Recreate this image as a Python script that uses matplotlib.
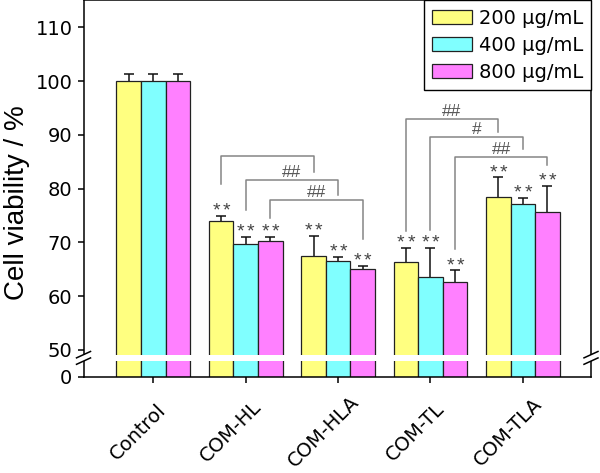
import matplotlib
matplotlib.use('Agg')
import matplotlib.pyplot as plt
import matplotlib.transforms as mtransforms
from matplotlib.patches import Rectangle
from matplotlib.lines import Line2D
import numpy as np

plt.rcParams['font.family'] = ['DejaVu Sans']

# ---- data ----
categories = ['Control', 'COM-HL', 'COM-HLA', 'COM-TL', 'COM-TLA']
dose_labels = ['200 \u03bcg/mL', '400 \u03bcg/mL', '800 \u03bcg/mL']
v200 = [100, 73.97, 67.46, 66.27, 78.43]
v400 = [100, 69.75, 66.44, 63.48, 77.18]
v800 = [100, 70.30, 64.97, 62.63, 75.70]
e200 = [1.36, 0.93, 3.68, 2.73, 3.64]
e400 = [1.36, 1.25, 0.90, 5.43, 1.12]
e800 = [1.36, 0.70, 0.69, 2.15, 4.78]
stars = ['', '**', '**', '**', '**']
ytick_values = [45, 50, 60, 70, 80, 90, 100, 110]
ytick_labels = ['0', '50', '60', '70', '80', '90', '100', '110']
# brackets: (group_a, dose_a, group_b, dose_b, y_top, y_left_end, y_right_end, label)
brackets = [
    (1, 0, 2, 0, 85.98, 80.85, 83.00, ''),
    (1, 1, 2, 1, 81.52, 76.07, 78.86, '##'),
    (1, 2, 2, 2, 77.80, 74.53, 70.62, '##'),
    (3, 0, 4, 0, 92.93, 72.03, 90.44, '##'),
    (3, 1, 4, 1, 89.51, 72.22, 87.36, '#'),
    (3, 2, 4, 2, 85.87, 68.82, 84.44, '##'),
]

colors = ['#FFFF80', '#80FFFF', '#FF80FF']
values = [v200, v400, v800]
errors = [e200, e400, e800]

fig = plt.figure(figsize=(6, 4.73), dpi=100)
ax = fig.add_axes([0.1392, 0.2036, 0.8458, 0.7954])

x = np.arange(len(categories))
w = 0.8 / 3
offsets = [-w, 0.0, w]

for i in range(3):
    xs = x + offsets[i]
    vals = np.array(values[i])
    errs = np.array(errors[i])
    ax.bar(xs, vals, w, color=colors[i], edgecolor='#222222', linewidth=0.9,
           label=dose_labels[i], zorder=2)
    eb = ax.errorbar(xs, vals, yerr=[np.zeros_like(errs), errs], fmt='none',
                     ecolor='#111111', elinewidth=1.1, capsize=3.4, capthick=1.1,
                     zorder=3)
    for cl in eb[1]:
        yd = np.asarray(cl.get_ydata())
        if np.allclose(yd, vals):
            cl.set_visible(False)
    for j in range(len(categories)):
        if stars[j]:
            for dx in (-3.7, 3.7):
                ax.annotate('*', xy=(xs[j], vals[j] + errs[j]), xytext=(dx, 0.3),
                            textcoords='offset points', ha='center', va='baseline',
                            fontsize=14, color='#444444', zorder=5,
                            family='Liberation Sans')

# significance brackets
for ga, da, gb, db, yt, yl, yr, lbl in brackets:
    xa = x[ga] + offsets[da]
    xb = x[gb] + offsets[db]
    ax.plot([xa, xa, xb, xb], [yl, yt, yt, yr], color='#858585', lw=1.1, zorder=1)
    if lbl:
        ax.annotate(lbl, xy=((xa + xb) / 2, yt), xytext=(0, 2.3),
                    textcoords='offset points', ha='center', va='baseline',
                    fontsize=12.5, color='#555555', family='Liberation Sans')

ax.set_xlim(-0.757, 4.738)
ax.set_ylim(45.0, 115.0)
ax.set_yticks(ytick_values)
ax.set_yticklabels(ytick_labels)
ax.set_xticks(x)
ax.tick_params(axis='both', direction='out', length=4.5, width=1.1, labelsize=14,
               top=False, right=False, pad=3.5)
ax.tick_params(axis='x', labelbottom=False)
for s in ax.spines.values():
    s.set_linewidth(1.1)

for j, name in enumerate(categories):
    ax.annotate(name, xy=(x[j], 0), xycoords=('data', 'axes fraction'),
                xytext=(-15, -55), textcoords='offset pixels', rotation=45,
                ha='center', va='center', rotation_mode='anchor', fontsize=14)

ax.set_ylabel('Cell viability / %', fontsize=20, family='Liberation Sans')
ax.yaxis.set_label_coords(-0.106, 0.462)

# axis break
bt = mtransforms.blended_transform_factory(ax.transAxes, ax.transData)
ax.add_patch(Rectangle((-0.02, 47.9), 1.04, 1.2, transform=bt, facecolor='white',
                       edgecolor='none', clip_on=False, zorder=10))
ddx = 7 / 507.5
ddy = 3.2 / 5.378
for x0 in (0.0, 1.0):
    for yb in (47.9, 49.1):
        ax.add_line(Line2D([x0 - ddx, x0 + ddx], [yb - ddy, yb + ddy], transform=bt,
                           color='black', lw=1.1, clip_on=False, zorder=11))

leg = ax.legend(loc='upper right', fontsize=14, frameon=True, fancybox=False,
                edgecolor='black', framealpha=1, borderaxespad=0,
                handlelength=2.05, handleheight=0.68, handletextpad=0.35,
                labelspacing=0.42, borderpad=0.42)
leg.get_frame().set_linewidth(1.0)

fig.savefig('out.png', dpi=100)
